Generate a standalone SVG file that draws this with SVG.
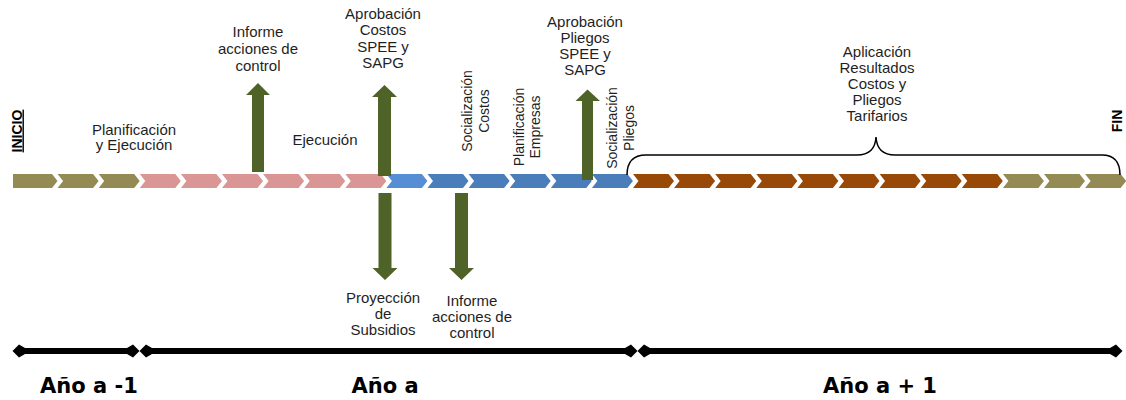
<svg xmlns="http://www.w3.org/2000/svg" width="1126" height="400" viewBox="0 0 1126 400">
<style>
.t{font-family:"Liberation Sans",Arial,sans-serif;font-size:15px;fill:#1f1f1f;text-anchor:middle}
.v{font-family:"Liberation Sans",Arial,sans-serif;font-size:14px;fill:#1f1f1f;text-anchor:middle}
.yr{font-family:"DejaVu Sans",Verdana,sans-serif;font-weight:bold;font-size:21px;fill:#000;text-anchor:middle}
.mk{font-family:"Liberation Sans",Arial,sans-serif;font-weight:bold;font-size:14px;fill:#000;text-anchor:middle}
.ol{fill:#948A54}.pk{fill:#D99694}.bl{fill:#4A7EBB}.bl2{fill:#558ED5}.br{fill:#984807}
.ga{fill:#4F6228}
.bar{stroke:#000;stroke-width:6;fill:none;marker-start:url(#dm);marker-end:url(#dm)}
</style>
<defs>
<path id="ch" d="M0,174 H35.5 L41,181 L35.5,188 H0 L5.5,181 Z"/>
<marker id="dm" markerUnits="userSpaceOnUse" viewBox="0 -7 13 14" refX="2" refY="0" markerWidth="13" markerHeight="14" orient="auto-start-reverse">
<path d="M0,-3 L6,-6.5 L12.5,0 L6,6.5 L0,3 Z" fill="#000"/>
</marker>
</defs>
<g id="timeline">
<path class="ol" d="M13,174 H52 L57.5,181 L52,188 H13 Z"/>
<use href="#ch" class="ol" x="57.6"/>
<use href="#ch" class="ol" x="98.7"/>
<use href="#ch" class="pk" x="139.8"/>
<use href="#ch" class="pk" x="180.9"/>
<use href="#ch" class="pk" x="222"/>
<use href="#ch" class="pk" x="263.1"/>
<use href="#ch" class="pk" x="304.2"/>
<use href="#ch" class="pk" x="345.3"/>
<use href="#ch" class="bl2" x="386.4"/>
<use href="#ch" class="bl" x="427.5"/>
<use href="#ch" class="bl" x="468.6"/>
<use href="#ch" class="bl" x="509.7"/>
<use href="#ch" class="bl" x="550.8"/>
<use href="#ch" class="bl" x="591.9"/>
<use href="#ch" class="br" x="633"/>
<use href="#ch" class="br" x="674.1"/>
<use href="#ch" class="br" x="715.2"/>
<use href="#ch" class="br" x="756.3"/>
<use href="#ch" class="br" x="797.4"/>
<use href="#ch" class="br" x="838.5"/>
<use href="#ch" class="br" x="879.6"/>
<use href="#ch" class="br" x="920.7"/>
<use href="#ch" class="br" x="961.8"/>
<use href="#ch" class="ol" x="1002.9"/>
<use href="#ch" class="ol" x="1044"/>
<use href="#ch" class="ol" x="1085.1"/>
</g>
<g id="connectors">
<path class="ga" d="M252,172 V95 H246 L258,83 L270,95 H264 V172 Z"/>
<path class="ga" d="M378,176 V97 H372 L384.5,85 L397,97 H391 V176 Z"/>
<path class="ga" d="M582,180 V101 H575.5 L587.5,89.5 L600,101 H593 V180 Z"/>
<path class="ga" d="M378.5,193 V268 H372.5 L385,280 L397.5,268 H391.5 V193 Z"/>
<path class="ga" d="M455,193 V268 H449 L461.5,280 L474,268 H468 V193 Z"/>
<path d="M627,175 Q627,155 646,155 H857 Q875,155 876,137 Q877,155 895,155 H1102 Q1120,155 1120,175" fill="none" stroke="#000" stroke-width="1.5"/>
<path class="bar" d="M23,351 H129"/>
<path class="bar" d="M150,351 H627"/>
<path class="bar" d="M648,351 H1112"/>
</g>
<g id="inicio"><text class="mk" transform="translate(21.5,131) rotate(-90)" text-decoration="underline">INICIO</text></g>
<g id="fin"><text class="mk" transform="translate(1122,121) rotate(-90)">FIN</text></g>
<g id="planificacion-ejecucion"><text class="t"><tspan x="134" y="134.5">Planificación</tspan><tspan x="134" y="150">y Ejecución</tspan></text></g>
<g id="informe-1"><text class="t"><tspan x="258" y="37">Informe</tspan><tspan x="258" y="54">acciones de</tspan><tspan x="258" y="71">control</tspan></text></g>
<g id="ejecucion"><text class="t" x="325" y="145">Ejecución</text></g>
<g id="aprobacion-costos"><text class="t"><tspan x="383" y="18.5">Aprobación</tspan><tspan x="383" y="35">Costos</tspan><tspan x="383" y="51.5">SPEE y</tspan><tspan x="383" y="68">SAPG</tspan></text></g>
<g id="socializacion-costos"><text class="v" transform="translate(472,111) rotate(-90)"><tspan x="0" y="0">Socialización</tspan><tspan x="0" y="17">Costos</tspan></text></g>
<g id="planificacion-empresas"><text class="v" transform="translate(524,127) rotate(-90)"><tspan x="0" y="0">Planificación</tspan><tspan x="0" y="15.5">Empresas</tspan></text></g>
<g id="aprobacion-pliegos"><text class="t"><tspan x="585" y="27">Aprobación</tspan><tspan x="585" y="43">Pliegos</tspan><tspan x="585" y="59">SPEE y</tspan><tspan x="585" y="75">SAPG</tspan></text></g>
<g id="socializacion-pliegos"><text class="v" transform="translate(617,128) rotate(-90)"><tspan x="0" y="0">Socialización</tspan><tspan x="0" y="17">Pliegos</tspan></text></g>
<g id="aplicacion"><text class="t"><tspan x="877" y="57">Aplicación</tspan><tspan x="877" y="73">Resultados</tspan><tspan x="877" y="89">Costos y</tspan><tspan x="877" y="105">Pliegos</tspan><tspan x="877" y="121">Tarifarios</tspan></text></g>
<g id="proyeccion-subsidios"><text class="t"><tspan x="383" y="303">Proyección</tspan><tspan x="383" y="319">de</tspan><tspan x="383" y="335">Subsidios</tspan></text></g>
<g id="informe-2"><text class="t"><tspan x="472" y="306">Informe</tspan><tspan x="472" y="322">acciones de</tspan><tspan x="472" y="338">control</tspan></text></g>
<g id="anio-menos-1"><text class="yr" x="89" y="393">Año a -1</text></g>
<g id="anio"><text class="yr" x="385" y="393">Año a</text></g>
<g id="anio-mas-1"><text class="yr" x="880" y="393">Año a + 1</text></g>
</svg>
